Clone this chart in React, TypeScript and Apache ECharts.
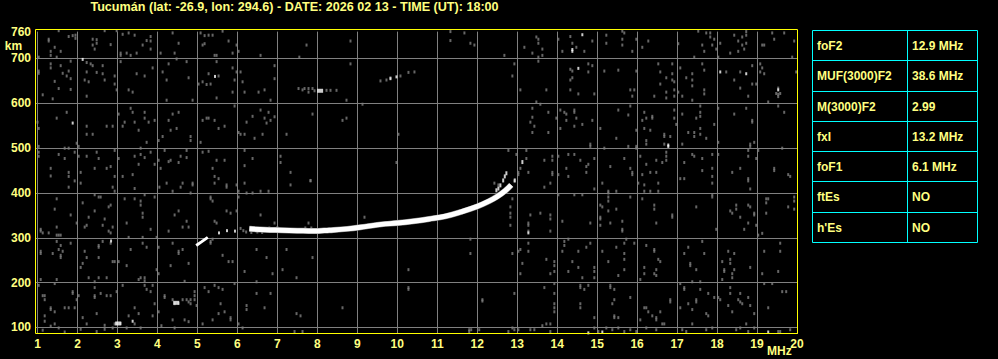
import React, { useEffect, useRef } from "react";
import * as echarts from "echarts";

const TITLE = "Tucumán (lat: -26.9, lon: 294.6) - DATE: 2026 02 13 - TIME (UT): 18:00";
const X_UNIT = "MHz";
const Y_UNIT = "km";

const tableParams = ["foF2", "MUF(3000)F2", "M(3000)F2", "fxI", "foF1", "ftEs", "h'Es"];
const tableValues = ["12.9 MHz", "38.6 MHz", "2.99", "13.2 MHz", "6.1 MHz", "NO", "NO"];

// ordinary (O) trace of the F2 layer: [MHz, km]
const f2Trace = [
  [6.3, 320], [6.7, 318], [7.1, 317], [7.5, 316], [7.9, 315], [8.3, 317], [8.75, 320],
  [9.2, 325], [9.6, 330], [10.0, 333], [10.4, 337], [10.8, 342], [11.2, 348], [11.6, 358],
  [12.0, 370], [12.3, 382], [12.5, 392], [12.7, 405], [12.85, 418],
];
// extraordinary trace fragments
const xTrace = [
  [12.48, 406], [12.53, 410], [12.58, 417], [12.65, 428], [12.69, 437], [12.73, 444],
  [12.94, 428], [13.13, 469],
];
// lower (F1) fragment
const f1Trace = [[4.97, 283], [5.1, 291], [5.26, 301]];

const whiteSpots = [
  [2.13, 698], [5.44, 660], [1.88, 556], [14.63, 753], [14.38, 720], [14.38, 716], [14.53, 678],
  [18.08, 670], [18.73, 666], [19.53, 630], [16.78, 507], [16.78, 504], [2.84, 293], [13.28, 311],
  [14.78, 88], [15.13, 90], [19.28, 90], [9.83, 655], [9.98, 659], [5.54, 311], [5.74, 316],
  [5.94, 315], [3.38, 114],
];
const whiteBlobs = [[8.07, 628], [4.47, 155], [3.02, 109]];

const noiseA = [
  [1.53,762],[1.78,749],[1.88,751],[1.95,752],[1.95,745],[1.28,743],[1.28,739],[1.43,725],[1.33,716],[1.33,707],[1.58,716],[1.48,703],[1.03,703],
  [2.38,743],[2.48,742],[2.48,734],[2.38,730],[2.43,721],[2.83,731],[2.68,762],[2.98,762],
  [3.13,754],[3.28,757],[3.43,752],[3.63,730],[3.73,740],[3.83,749],[3.83,739],[3.83,721],[3.08,712],[3.08,707],[3.23,712],[3.33,707],[3.48,712],[4.08,712],[4.43,712],[4.53,734],[4.38,757],
  [5.08,757],[5.18,751],[5.18,733],[5.28,752],[5.38,752],[5.13,730],[5.63,761],[5.78,739],[5.43,707],[5.48,707],[5.88,712],[6.03,716],[5.98,730],[6.58,707],[7.55,703],[7.73,730],[8.83,739],
  [1.03,672],[1.03,667],[1.33,688],[1.33,679],[1.58,684],[1.43,649],[1.53,633],[1.63,667],[1.73,661],[1.78,672],[1.83,694],[1.83,655],[1.83,631],[1.13,619],[1.38,610],
  [2.23,691],[2.33,688],[2.38,684],[2.23,670],[2.18,652],[2.28,648],[2.48,669],[2.63,684],[2.63,666],[2.68,652],[2.93,661],[2.93,643],[2.98,630],[2.23,616],
  [3.08,693],[3.48,666],[3.68,661],[3.28,630],[3.38,625],[3.88,679],[4.13,670],[4.23,652],[4.28,688],[4.48,699],[4.73,693],[4.78,657],[4.23,607],[4.88,607],
  [5.03,643],[5.13,648],[5.23,642],[5.28,666],[5.33,643],[5.48,693],[5.53,661],[5.88,679],[5.93,652],[5.98,670],[6.08,670],[6.13,648],[5.88,625],[5.48,612],
  [6.18,625],[6.53,625],[6.68,630],[6.93,684],[6.93,655],[6.83,607],
  [7.53,633],[7.63,630],[7.68,633],[7.78,633],[7.88,633],[7.93,628],[7.78,625],[8.23,629],[8.33,629],[8.48,629],[8.73,607],[8.83,688],
  [9.58,650],[9.73,652],[9.83,657],[10.08,661],[10.28,669],[10.43,670],
];
const noiseB = [
  [1.0,558],[1.03,544],[1.48,567],[1.73,580],[2.23,549],[2.23,531],[2.38,531],[2.73,549],[2.88,549],[1.98,511],[2.03,504],[1.03,504],
  [3.03,576],[3.13,549],[3.18,558],[3.33,589],[3.38,580],[3.43,558],[3.53,540],[3.68,580],[3.68,567],[3.78,558],[3.93,562],[3.73,513],
  [4.03,517],[4.13,526],[4.28,562],[4.33,540],[4.38,576],[4.48,544],[4.53,580],[4.83,526],[4.83,517],[5.08,513],
  [5.13,562],[5.23,567],[5.28,567],[5.43,562],[5.53,544],[5.68,549],[5.93,594],
  [6.03,535],[6.08,531],[6.18,531],[6.23,558],[6.38,571],[6.43,522],[6.58,585],[6.68,567],[6.73,556],[6.78,580],[6.83,562],[6.93,570],[6.63,531],
  [7.23,531],[7.88,576],[8.63,562],[8.73,567],[9.13,598],[10.03,531],
  [1.03,491],[1.03,482],[1.53,486],[1.68,500],[1.78,500],[1.68,477],[1.93,491],[2.03,482],[1.33,455],[1.33,438],[1.78,446],[1.78,437],[2.08,446],
  [2.23,482],[2.48,491],[2.53,477],[2.43,455],[2.73,455],[2.83,459],[2.93,437],[2.93,495],
  [3.03,477],[3.13,437],[3.38,441],[3.43,482],[3.58,500],[3.58,486],[3.68,479],[3.83,491],[3.93,464],[3.53,464],
  [4.03,473],[4.18,495],[4.28,470],[4.33,473],[4.53,468],[4.58,482],[4.73,479],[4.73,495],[4.08,455],
  [5.13,491],[5.28,493],[5.38,455],[5.43,437],[5.53,432],[5.48,473],[5.68,473],
  [6.18,461],[6.18,495],[6.38,477],[7.08,482],[7.08,468],[7.33,446],[7.83,428],[9.98,468],
];
const noiseC = [
  [11.33,760],[11.33,740],[11.68,757],[11.83,734],[11.93,730],[12.68,707],[12.93,688],[12.88,661],[13.08,630],[13.18,725],[13.38,712],
  [13.48,748],[13.53,743],[13.53,734],[13.63,721],[13.63,707],[13.53,703],[13.53,694],[13.73,630],[13.48,603],[13.58,598],
  [14.03,743],[14.13,716],[14.33,749],[14.38,734],[14.48,725],[14.68,716],[14.88,739],[14.33,676],[14.38,672],[14.33,652],[14.38,657],[14.78,688],[14.88,684],[14.78,670],[14.33,630],[14.53,621],[14.93,621],
  [15.23,752],[15.23,734],[15.63,761],[15.68,757],[15.63,743],[15.63,730],[15.88,716],[15.98,743],[15.18,672],[15.53,674],[15.98,672],[15.83,630],[15.93,630],[15.88,616],
  [16.13,725],[16.28,739],[16.53,688],[16.88,688],[16.58,670],[16.73,657],[16.58,643],[16.88,666],[16.88,652],[16.93,648],[16.43,616],[16.73,625],[16.73,612],[16.93,630],[16.93,616],[17.03,625],[17.13,616],[17.03,733],
  [17.53,761],[17.73,757],[17.83,757],[17.83,748],[17.63,730],[17.68,716],[17.88,730],[17.93,743],[17.98,721],[17.43,703],[17.08,679],[17.23,657],[17.38,666],[17.38,652],[17.63,688],[17.68,674],[17.38,639],[17.38,607],[17.68,630],[17.68,621],
  [18.43,752],[18.53,739],[18.63,748],[18.73,752],[18.73,760],[18.63,730],[18.73,734],[18.68,721],[18.33,712],[18.53,716],[18.08,734],[18.03,703],
  [18.23,670],[18.43,652],[18.58,670],[18.58,634],[18.78,616],[18.88,684],[18.88,643],[18.98,643],
  [19.13,730],[19.18,730],[19.38,757],[19.43,743],[19.68,757],[19.93,739],[19.88,703],[19.08,688],[19.13,679],[19.08,670],[19.18,666],[19.28,603],[19.98,670],
  [19.48,622],[19.53,620],[19.58,622],[19.53,615],[19.53,634],
];
const noiseD = [
  [13.38,589],[13.38,569],[13.33,558],[13.43,549],[13.38,535],[13.78,580],[13.78,535],
  [14.08,585],[14.18,580],[14.23,576],[14.23,562],[14.43,585],[14.43,580],[14.48,567],[14.43,549],[14.63,553],[14.88,562],[14.08,544],[13.98,567],[14.83,509],[14.83,504],
  [15.08,544],[15.48,522],[15.53,585],[15.78,574],[15.83,594],[15.78,504],[15.98,504],[15.98,540],
  [16.18,580],[16.13,562],[16.18,544],[16.33,540],[16.23,567],[16.38,571],[16.38,567],[16.68,531],[16.68,526],[16.83,526],[16.68,509],[16.23,517],[16.23,509],
  [16.93,585],[16.93,567],[16.98,553],[17.13,576],[17.28,535],[17.43,535],[17.43,526],[17.58,594],[17.58,580],[17.58,571],[17.58,544],[17.58,531],[17.73,522],[17.48,567],[17.13,509],
  [17.93,553],[18.03,589],[18.43,576],[18.73,589],[18.88,562],[18.88,558],[18.83,509],[18.93,513],[18.03,513],[19.53,594],[19.68,580],[19.63,500],
  [12.78,495],[12.98,486],[13.03,446],[13.03,441],[13.08,455],
  [13.23,495],[13.23,477],[13.28,446],[13.68,473],[13.88,482],[13.88,473],[13.88,446],[13.88,441],[14.03,482],[14.03,441],
  [14.28,486],[14.43,486],[14.58,473],[14.73,459],[14.78,464],[14.73,446],[14.23,455],[14.28,437],[14.93,477],
  [15.33,459],[15.68,477],[15.83,455],[15.88,446],[15.88,441],[15.18,500],[15.98,500],
  [16.08,482],[16.23,464],[16.48,473],[16.13,441],[16.33,446],[16.48,446],[16.73,491],[16.73,482],[16.73,473],[16.63,468],
  [17.18,468],[17.38,486],[17.43,482],[17.63,477],[17.88,486],[17.88,455],[17.88,437],[17.63,450],[17.08,432],[17.18,432],
  [18.03,486],[18.38,446],[18.58,455],[18.78,495],[18.78,482],[18.83,504],[18.78,432],[18.98,477],[19.03,495],[19.43,455],[19.43,450],[19.78,441],[19.83,437],
];
const noiseE = [
  [1.78,413],[2.08,422],[1.93,427],[2.88,413],[2.93,404],
  [1.48,387],[1.83,351],[2.13,378],[2.28,346],[2.43,396],[2.53,391],[2.58,391],[2.83,373],[2.78,369],[2.68,342],[2.63,328],[2.88,324],[2.78,315],[2.83,311],[2.23,328],[2.18,324],[1.98,333],[2.43,360],
  [1.08,319],[1.08,315],[1.13,311],[1.28,311],[1.48,324],[1.53,306],[1.58,306],[1.48,306],[1.43,364],
  [3.18,387],[3.43,387],[3.58,382],[3.58,373],[3.63,355],[3.63,346],[3.23,333],[3.83,319],[3.43,410],[3.68,396],[3.93,391],[3.28,301],
  [4.05,413],[4.23,422],[4.38,404],[4.58,413],[4.63,422],[4.88,422],[4.88,418],[4.83,400],[4.43,351],[4.53,360],[4.73,337],[4.63,324],[4.78,324],[4.28,315],[3.98,301],[3.63,301],
  [5.43,422],[5.73,418],[5.73,413],[5.98,418],[6.18,422],[6.03,404],[6.23,400],[6.38,400],[6.58,404],[6.78,404],[5.33,391],[5.38,382],[5.33,387],[5.73,360],[5.83,355],[5.98,360],[5.48,333],[5.43,337],[6.03,391],
  [7.33,418],[7.83,427],[6.58,351],[6.93,333],[7.78,333],[9.18,346],[9.93,333],
  [1.48,292],[1.58,283],[1.53,274],[1.63,270],[1.58,261],[1.58,256],[1.83,288],[1.08,270],[1.08,265],[1.38,265],[2.18,270],[2.23,256],[2.53,256],[2.53,283],[2.53,279],[2.13,243],[2.08,234],[1.08,207],[1.48,207],
  [2.93,247],[3.03,247],[2.63,292],[2.83,288],[2.88,247],[3.23,238],[3.33,274],[3.63,288],[3.73,279],[3.68,211],[3.58,211],[3.53,207],[3.68,204],[2.28,211],[2.43,202],[2.53,211],[2.73,211],
  [4.03,279],[3.98,229],[4.03,220],[4.33,238],[4.53,270],[4.53,265],[4.63,274],[4.78,243],[4.68,203],[4.38,288],
  [5.33,292],[5.33,288],[5.38,297],[5.63,261],[5.78,247],[5.88,247],[6.18,225],[6.48,274],[6.48,202],[6.73,256],[6.88,220],[7.13,229],[7.23,274],[7.48,211],[7.88,256],[10.28,229],
  [1.13,171],[1.18,171],[1.18,162],[1.43,198],[1.03,194],[1.88,180],[1.88,176],[1.18,126],[1.33,144],[1.33,140],[1.68,144],[1.78,144],[1.93,144],[1.43,135],[1.18,114],[1.43,108],[1.33,103],[1.53,99],[1.13,94],[1.68,90],
  [2.43,189],[2.43,171],[2.58,176],[2.73,171],[2.83,171],[2.98,180],[2.43,167],[1.98,162],[2.03,171],[2.13,122],[2.23,108],[2.48,131],[2.68,105],[2.88,99],[2.93,108],[2.08,96],[2.48,91],[2.68,96],
  [3.13,194],[3.68,194],[3.73,185],[3.83,180],[3.88,194],[3.43,144],[3.28,126],[3.53,131],[3.88,126],[4.03,135],[4.18,171],[4.18,167],[3.93,153],[3.23,99],[3.58,99],[3.43,108],
  [4.38,162],[4.43,153],[4.63,162],[4.73,162],[4.83,162],[4.93,162],[4.53,154],[4.78,157],[4.83,153],
  [4.38,117],[4.68,117],[4.78,113],[4.98,149],[4.93,180],[4.93,171],[4.1,104],[4.43,99],
  [5.18,189],[5.28,180],[5.43,194],[5.53,189],[5.63,185],[5.58,153],[5.68,135],[5.53,131],[5.38,117],[5.83,122],[5.83,117],[5.93,198],[6.03,108],[6.13,99],[5.13,108],
  [6.23,149],[6.23,140],[6.68,144],[6.48,176],[6.83,176],[7.48,131],[7.58,126],[8.63,144],[7.43,91],[7.63,91],[10.28,189],[10.28,185],
  [2.96,109],[3.08,109],
  [6.08,321],[6.15,316],[6.22,313],[6.35,312],[6.5,313],[6.62,312],[6.8,322],[7.0,323],[7.7,322],[7.85,322],
];
const noiseF = [
  [13.68,413],[13.83,422],[14.93,409],[15.13,422],[15.28,404],[15.28,400],[15.48,404],[16.03,422],[16.18,418],[16.18,404],[16.33,404],[16.53,422],[16.53,404],[17.88,422],[18.78,427],[18.83,409],[12.43,422],[12.53,418],[12.93,427],
  [12.83,369],[12.83,355],[12.83,346],[12.83,328],[12.88,387],[13.28,333],[13.33,351],[13.58,355],[13.83,351],[13.83,342],[13.83,315],[13.28,315],[13.28,328],[14.13,337],[14.03,396],[14.43,396],[14.63,396],
  [15.08,373],[15.13,369],[15.08,346],[15.08,342],[15.08,328],[15.28,391],[15.28,382],[15.28,360],[15.33,333],[15.48,364],[15.63,337],[15.63,319],[15.63,315],[15.83,391],[14.83,333],
  [16.13,387],[16.43,373],[16.43,364],[16.48,333],[16.88,351],[16.88,346],[17.48,369],
  [17.88,396],[17.88,391],[18.33,360],[18.38,355],[18.48,373],[18.48,364],[18.58,346],[18.68,319],[18.78,373],[18.78,333],[18.83,369],[18.93,355],[18.93,351],[18.98,328],[19.03,306],[19.13,310],[19.23,387],[19.23,378],[19.23,355],[19.28,387],[19.78,369],[19.93,391],[19.93,382],[19.93,364],[17.98,319],
  [11.83,297],[11.83,265],[12.88,265],[13.08,274],[13.03,270],[13.13,243],[13.28,288],[13.28,270],[13.08,220],[13.73,252],[13.93,247],[13.93,238],[13.93,225],[13.83,220],[13.68,189],
  [14.18,292],[14.18,283],[14.28,297],[14.13,270],[14.38,247],[14.53,270],[14.73,279],[14.83,288],[14.53,234],[14.28,225],[14.63,211],[14.93,234],[14.93,225],[14.93,211],[15.13,270],[15.28,247],[15.48,279],[15.68,288],[15.68,265],[15.68,252],[15.68,229],[15.53,216],[15.73,297],[15.93,288],[16.08,207],[16.23,283],[16.43,274],[16.43,270],[16.53,252],[16.58,247],[16.43,220],[16.48,229],[16.18,234],[16.18,220],[16.48,216],
  [17.18,265],[17.28,279],[17.33,243],[17.33,238],[17.48,229],[17.63,292],[17.68,265],[17.58,202],[17.38,202],[18.13,247],[18.28,270],[18.33,252],[18.33,243],[18.43,265],[18.18,229],[18.18,225],[18.13,207],[18.38,220],[18.38,211],[18.43,229],[18.83,234],[19.13,220],[19.18,270],[19.38,198],[19.58,288],[19.58,270],[19.53,225],[19.73,180],
  [12.93,176],[12.13,162],[12.13,159],
  [13.93,198],[13.93,176],[13.93,153],[13.93,144],[13.93,135],[13.63,104],[13.73,108],[13.83,108],[12.88,99],[12.93,95],[13.03,95],[12.78,91],[13.33,95],[13.43,95],[13.83,91],
  [14.58,194],[14.58,189],[14.68,185],[14.78,194],[14.58,153],[14.58,144],[14.93,122],[14.93,99],[15.03,91],[15.33,194],[15.33,189],[15.43,185],[15.43,162],[15.38,153],[15.43,126],[15.43,122],[15.53,122],[15.23,99],[15.38,95],[15.53,99],[15.68,91],
  [15.83,167],[16.08,117],[16.18,144],[16.23,144],[16.28,135],[16.38,126],[16.48,122],[16.48,117],[16.58,135],[16.63,108],[16.68,108],[16.23,99],[16.48,95],[16.83,162],[16.83,157],[15.83,95],[15.98,91],
  [17.08,198],[17.18,189],[17.18,185],[17.08,144],[17.28,153],[17.38,140],[17.48,162],[17.48,157],[17.58,185],[17.73,131],[17.78,126],[17.78,176],[17.38,108],[17.73,95],[17.88,99],[17.13,95],[17.23,91],
  [17.93,167],[18.03,167],[18.08,162],[18.33,189],[18.33,176],[18.28,149],[18.38,135],[18.53,162],[18.58,157],[18.63,153],[18.58,176],[18.78,167],[18.83,149],[18.93,131],[18.73,108],[18.58,99],[18.48,95],[18.78,91],[18.93,99],[19.28,144],[19.18,198],[19.63,180],[19.53,91],[19.58,91],[19.83,95],
  [11.8,95],[11.85,95],[12.05,95],[11.8,91],
];

const X_MIN = 0.9375;
const X_MAX = 20;
const Y_MIN = 85.5;
const Y_MAX = 760;

const FONT = "'Liberation Sans', Arial, sans-serif";
const TXT = "#ffff80";
const FRAME = "#ffff00";
const GRIDC = "#808080";
const CYAN = "#00ffff";

export default function App() {
  const ref = useRef<HTMLDivElement | null>(null);
  useEffect(() => {
    if (!ref.current) return;
    const chart = echarts.init(ref.current, null, { renderer: "svg" });

    const tblX0 = 812.5, tblX1 = 977.5, tblXm = 907.5, tblY0 = 30, tblY1 = 242;
    const rows = tableParams.length;
    const rowY = (i: number) => Math.round(tblY0 + (i * (tblY1 - tblY0)) / rows) + 0.5;
    const tableEls: any[] = [
      { type: "rect", shape: { x: tblX0, y: rowY(0), width: tblX1 - tblX0, height: rowY(rows) - rowY(0) }, style: { fill: "none", stroke: CYAN, lineWidth: 1 }, z: 10 },
      { type: "line", shape: { x1: tblXm, y1: rowY(0), x2: tblXm, y2: rowY(rows) }, style: { stroke: CYAN, lineWidth: 1 }, z: 10 },
    ];
    for (let i = 1; i < rows; i++) {
      tableEls.push({ type: "line", shape: { x1: tblX0, y1: rowY(i), x2: tblX1, y2: rowY(i) }, style: { stroke: CYAN, lineWidth: 1 }, z: 10 });
    }
    tableParams.forEach((p, i) => {
      const cy = (rowY(i) + rowY(i + 1)) / 2;
      tableEls.push({ type: "text", x: 817, y: cy, style: { text: p, fill: TXT, font: `bold 12px ${FONT}`, textVerticalAlign: "middle", textAlign: "left" }, z: 10 });
      tableEls.push({ type: "text", x: 912, y: cy, style: { text: tableValues[i], fill: TXT, font: `bold 12px ${FONT}`, textVerticalAlign: "middle", textAlign: "left" }, z: 10 });
    });

    const noiseSeries = [noiseA, noiseB, noiseC, noiseD, noiseE, noiseF].map((d) => ({
      type: "scatter",
      data: d,
      symbol: "rect",
      symbolSize: [2, 3],
      itemStyle: { color: GRIDC },
      clip: false,
      silent: true,
      z: 2,
    }));

    chart.setOption({
      animation: false,
      backgroundColor: "#000000",
      grid: { left: 35, top: 31.6, width: 762, height: 302.4, show: false },
      xAxis: {
        type: "value",
        min: X_MIN,
        max: X_MAX,
        minInterval: 1,
        maxInterval: 1,
        axisLine: { show: false },
        axisTick: { show: false },
        splitLine: { show: true, showMinLine: false, lineStyle: { color: GRIDC, width: 1 } },
        axisLabel: { color: TXT, fontFamily: FONT, fontWeight: "bold", fontSize: 12, margin: 4, showMinLabel: false, showMaxLabel: true },
      },
      yAxis: {
        type: "value",
        min: Y_MIN,
        max: Y_MAX,
        minInterval: 100,
        maxInterval: 100,
        axisLine: { show: false },
        axisTick: { show: false },
        splitLine: { show: true, showMinLine: false, showMaxLine: false, lineStyle: { color: GRIDC, width: 1 } },
        axisLabel: { color: TXT, fontFamily: FONT, fontWeight: "bold", fontSize: 12, margin: 4, showMinLabel: false, showMaxLabel: true },
      },
      series: [
        ...noiseSeries,
        {
          type: "line", data: f2Trace, smooth: 0.4, showSymbol: false, clip: false, silent: true, z: 3,
          lineStyle: { color: GRIDC, width: 6, cap: "butt" },
        },
        {
          type: "line", data: f2Trace, smooth: 0.4, showSymbol: false, clip: false, silent: true, z: 4,
          lineStyle: { color: "#ffffff", width: 5, cap: "butt" },
        },
        {
          type: "line", data: f1Trace, smooth: false, showSymbol: false, clip: false, silent: true, z: 4,
          lineStyle: { color: "#ffffff", width: 3, cap: "butt" },
        },
        {
          type: "scatter", data: xTrace, symbol: "rect", symbolSize: [2, 4], clip: false, silent: true, z: 4,
          itemStyle: { color: "#ffffff" },
        },
        {
          type: "scatter", data: whiteSpots, symbol: "rect", symbolSize: [2, 3], clip: false, silent: true, z: 4,
          itemStyle: { color: "#ffffff" },
        },
        {
          type: "scatter", data: whiteBlobs, symbol: "rect", symbolSize: [6, 4], clip: false, silent: true, z: 4,
          itemStyle: { color: "#ffffff" },
        },
      ],
      graphic: [
        { type: "rect", shape: { x: 35.5, y: 29.5, width: 762, height: 304 }, style: { fill: "none", stroke: FRAME, lineWidth: 1 }, z: 20, silent: true },
        { type: "text", x: 294.5, y: 0, style: { text: TITLE, fill: TXT, font: `bold 12.6px ${FONT}`, textAlign: "center", textVerticalAlign: "top" }, z: 20 },
        { type: "text", x: 13.5, y: 46, style: { text: Y_UNIT, fill: TXT, font: `bold 12px ${FONT}`, textAlign: "center", textVerticalAlign: "middle" }, z: 20 },
        { type: "text", x: 767, y: 351, style: { text: X_UNIT, fill: TXT, font: `bold 12px ${FONT}`, textAlign: "left", textVerticalAlign: "middle" }, z: 20 },
        ...tableEls,
      ],
    });
    return () => chart.dispose();
  }, []);
  return (
    <div
      ref={ref}
      style={{ position: "fixed", left: 0, top: 0, width: 998, height: 359, background: "#000" }}
    />
  );
}
